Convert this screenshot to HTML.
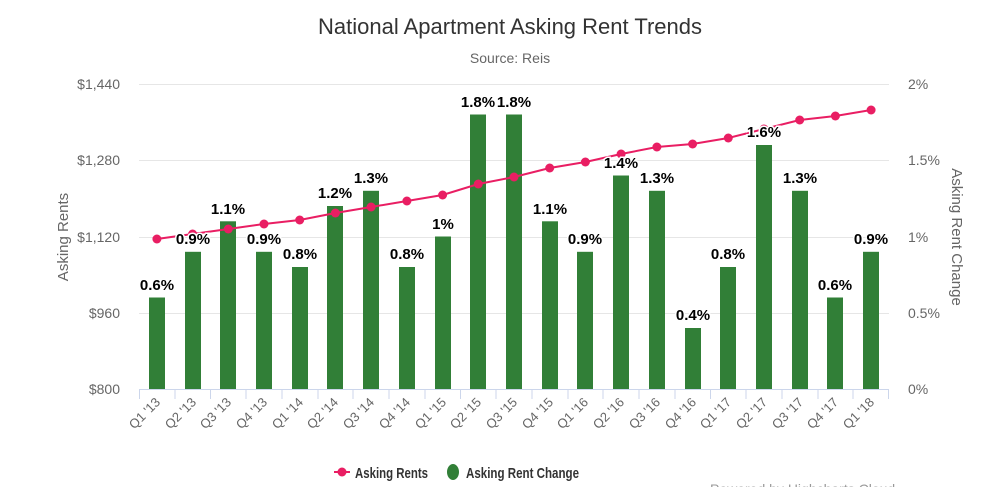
<!DOCTYPE html>
<html><head><meta charset="utf-8"><style>
body{margin:0;background:#fff;}
svg{display:block;font-family:"Liberation Sans",sans-serif;}
</style></head><body>
<svg width="1000" height="487" viewBox="0 0 1000 487">
<text x="510" y="34" text-anchor="middle" font-size="22" fill="#333">National Apartment Asking Rent Trends</text>
<text x="510" y="63" text-anchor="middle" font-size="14" fill="#666">Source: Reis</text>
<g stroke="#e6e6e6" stroke-width="1">
<line x1="139" x2="889" y1="84.5" y2="84.5"/><line x1="139" x2="889" y1="160.5" y2="160.5"/>
<line x1="139" x2="889" y1="237.5" y2="237.5"/><line x1="139" x2="889" y1="313.5" y2="313.5"/>
</g>
<g font-size="14" fill="#666" text-anchor="end">
<text x="120" y="89">$1,440</text><text x="120" y="165">$1,280</text><text x="120" y="242">$1,120</text><text x="120" y="318">$960</text><text x="120" y="394">$800</text>
</g>
<g font-size="14" fill="#666">
<text x="908" y="89">2%</text><text x="908" y="165">1.5%</text><text x="908" y="242">1%</text><text x="908" y="318">0.5%</text><text x="908" y="394">0%</text>
</g>
<text transform="translate(68,237) rotate(-90)" text-anchor="middle" font-size="15" fill="#666">Asking Rents</text>
<text transform="translate(952,237) rotate(90)" text-anchor="middle" font-size="15" fill="#666">Asking Rent Change</text>
<g fill="#317f37">
<rect x="149" y="297.5" width="16" height="91.5"/><rect x="185" y="251.8" width="16" height="137.2"/><rect x="220" y="221.3" width="16" height="167.7"/><rect x="256" y="251.8" width="16" height="137.2"/><rect x="292" y="267" width="16" height="122"/><rect x="327" y="206" width="16" height="183"/><rect x="363" y="190.8" width="16" height="198.2"/><rect x="399" y="267" width="16" height="122"/><rect x="435" y="236.5" width="16" height="152.5"/><rect x="470" y="114.5" width="16" height="274.5"/><rect x="506" y="114.5" width="16" height="274.5"/><rect x="542" y="221.3" width="16" height="167.7"/><rect x="577" y="251.8" width="16" height="137.2"/><rect x="613" y="175.5" width="16" height="213.5"/><rect x="649" y="190.8" width="16" height="198.2"/><rect x="685" y="328" width="16" height="61"/><rect x="720" y="267" width="16" height="122"/><rect x="756" y="145" width="16" height="244"/><rect x="792" y="190.8" width="16" height="198.2"/><rect x="827" y="297.5" width="16" height="91.5"/><rect x="863" y="251.8" width="16" height="137.2"/>
</g>
<polyline fill="none" stroke="#e91e63" stroke-width="2" points="156.9,239 192.6,234 228.3,229 264,224 299.7,220 335.4,213 371.1,207 406.9,201 442.6,195 478.3,184 514,177 549.7,168 585.4,162 621.1,154 656.9,147 692.6,144 728.3,138 764,129 799.7,120 835.4,116 871.1,110"/>
<g fill="#e91e63">
<circle cx="156.9" cy="239" r="4.5"/><circle cx="192.6" cy="234" r="4.5"/><circle cx="228.3" cy="229" r="4.5"/><circle cx="264" cy="224" r="4.5"/><circle cx="299.7" cy="220" r="4.5"/><circle cx="335.4" cy="213" r="4.5"/><circle cx="371.1" cy="207" r="4.5"/><circle cx="406.9" cy="201" r="4.5"/><circle cx="442.6" cy="195" r="4.5"/><circle cx="478.3" cy="184" r="4.5"/><circle cx="514" cy="177" r="4.5"/><circle cx="549.7" cy="168" r="4.5"/><circle cx="585.4" cy="162" r="4.5"/><circle cx="621.1" cy="154" r="4.5"/><circle cx="656.9" cy="147" r="4.5"/><circle cx="692.6" cy="144" r="4.5"/><circle cx="728.3" cy="138" r="4.5"/><circle cx="764" cy="129" r="4.5"/><circle cx="799.7" cy="120" r="4.5"/><circle cx="835.4" cy="116" r="4.5"/><circle cx="871.1" cy="110" r="4.5"/>
</g>
<g font-size="15" font-weight="bold" fill="#000" text-anchor="middle" stroke="#fff" stroke-width="3" paint-order="stroke">
<text x="157" y="290">0.6%</text><text x="193" y="244">0.9%</text><text x="228" y="214">1.1%</text><text x="264" y="244">0.9%</text><text x="300" y="259">0.8%</text><text x="335" y="198">1.2%</text><text x="371" y="183">1.3%</text><text x="407" y="259">0.8%</text><text x="443" y="229">1%</text><text x="478" y="107">1.8%</text><text x="514" y="107">1.8%</text><text x="550" y="214">1.1%</text><text x="585" y="244">0.9%</text><text x="621" y="168">1.4%</text><text x="657" y="183">1.3%</text><text x="693" y="320">0.4%</text><text x="728" y="259">0.8%</text><text x="764" y="137">1.6%</text><text x="800" y="183">1.3%</text><text x="835" y="290">0.6%</text><text x="871" y="244">0.9%</text>
</g>
<line x1="139" x2="889" y1="389.5" y2="389.5" stroke="#ccd6eb"/>
<g stroke="#ccd6eb">
<line x1="139.5" x2="139.5" y1="389" y2="399"/><line x1="175" x2="175" y1="389" y2="399"/><line x1="210.5" x2="210.5" y1="389" y2="399"/><line x1="246" x2="246" y1="389" y2="399"/><line x1="282" x2="282" y1="389" y2="399"/><line x1="318" x2="318" y1="389" y2="399"/><line x1="353" x2="353" y1="389" y2="399"/><line x1="389" x2="389" y1="389" y2="399"/><line x1="425" x2="425" y1="389" y2="399"/><line x1="460.5" x2="460.5" y1="389" y2="399"/><line x1="496" x2="496" y1="389" y2="399"/><line x1="532" x2="532" y1="389" y2="399"/><line x1="568" x2="568" y1="389" y2="399"/><line x1="603" x2="603" y1="389" y2="399"/><line x1="639" x2="639" y1="389" y2="399"/><line x1="675" x2="675" y1="389" y2="399"/><line x1="710.5" x2="710.5" y1="389" y2="399"/><line x1="746" x2="746" y1="389" y2="399"/><line x1="782" x2="782" y1="389" y2="399"/><line x1="818" x2="818" y1="389" y2="399"/><line x1="853" x2="853" y1="389" y2="399"/><line x1="888.5" x2="888.5" y1="389" y2="399"/>
</g>
<g font-size="13" fill="#666" text-anchor="end">
<text transform="translate(161,403) rotate(-45)">Q1 '13</text><text transform="translate(197,403) rotate(-45)">Q2 '13</text><text transform="translate(232,403) rotate(-45)">Q3 '13</text><text transform="translate(268,403) rotate(-45)">Q4 '13</text><text transform="translate(304,403) rotate(-45)">Q1 '14</text><text transform="translate(339,403) rotate(-45)">Q2 '14</text><text transform="translate(375,403) rotate(-45)">Q3 '14</text><text transform="translate(411,403) rotate(-45)">Q4 '14</text><text transform="translate(447,403) rotate(-45)">Q1 '15</text><text transform="translate(482,403) rotate(-45)">Q2 '15</text><text transform="translate(518,403) rotate(-45)">Q3 '15</text><text transform="translate(554,403) rotate(-45)">Q4 '15</text><text transform="translate(589,403) rotate(-45)">Q1 '16</text><text transform="translate(625,403) rotate(-45)">Q2 '16</text><text transform="translate(661,403) rotate(-45)">Q3 '16</text><text transform="translate(697,403) rotate(-45)">Q4 '16</text><text transform="translate(732,403) rotate(-45)">Q1 '17</text><text transform="translate(768,403) rotate(-45)">Q2 '17</text><text transform="translate(804,403) rotate(-45)">Q3 '17</text><text transform="translate(839,403) rotate(-45)">Q4 '17</text><text transform="translate(875,403) rotate(-45)">Q1 '18</text>
</g>
<line x1="334" x2="350" y1="472" y2="472" stroke="#e91e63" stroke-width="2"/>
<circle cx="342" cy="472" r="4.5" fill="#e91e63"/>
<text x="355" y="478" font-size="15" font-weight="bold" fill="#333" textLength="73" lengthAdjust="spacingAndGlyphs">Asking Rents</text>
<ellipse cx="453" cy="472" rx="6" ry="8" fill="#317f37"/>
<text x="466" y="478" font-size="15" font-weight="bold" fill="#333" textLength="113" lengthAdjust="spacingAndGlyphs">Asking Rent Change</text>
<text x="710" y="494" font-size="14" fill="#999">Powered by Highcharts Cloud</text>
</svg>
</body></html>
